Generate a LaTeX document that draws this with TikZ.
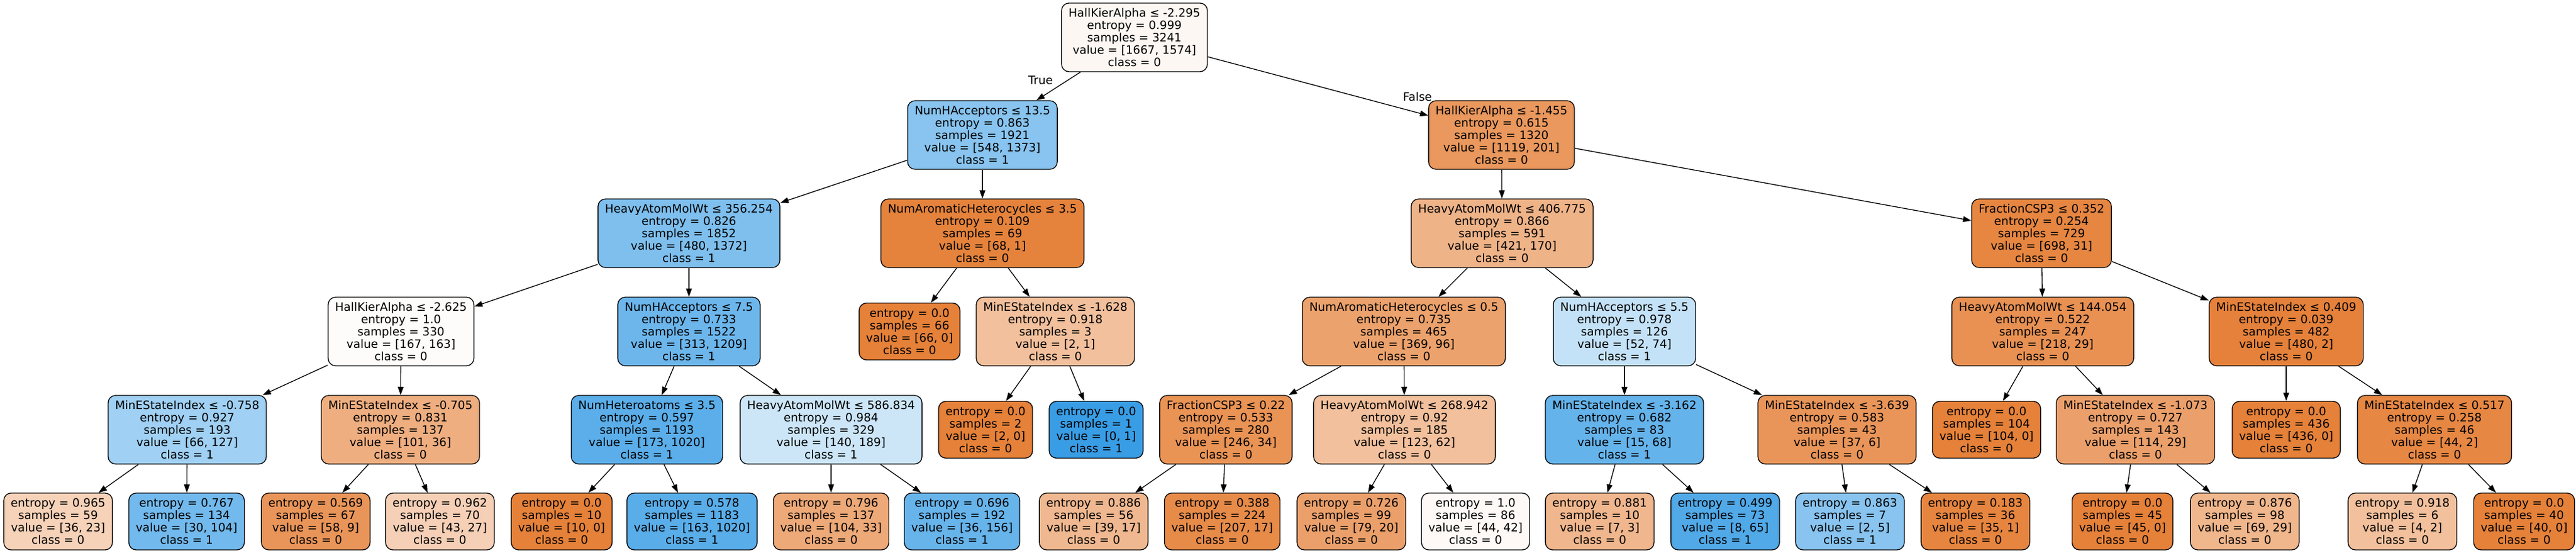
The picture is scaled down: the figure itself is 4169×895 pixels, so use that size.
\documentclass[tikz,border=0pt]{standalone}
\usepackage{fontspec}
\setmainfont{DejaVu Sans}
\usetikzlibrary{arrows.meta}

\definecolor{clsA}{HTML}{E58139}
\definecolor{clsB}{HTML}{399DE5}

\newcommand{\dtsplit}[5]{#1\\entropy = #2\\samples = #3\\value = #4\\class = #5}
\newcommand{\dtleaf}[4]{entropy = #1\\samples = #2\\value = #3\\class = #4}

\tikzset{
	box/.style={draw, line width=1pt, rounded corners=9pt, align=center,
		font=\fontsize{14}{15}\selectfont, inner xsep=8.5pt, inner ysep=2pt,
		minimum height=83.25pt},
	leafbox/.style={box, minimum height=69pt},
	edge/.style={-{Triangle[length=10pt,width=7pt]}, line width=1pt},
	elabel/.style={font=\fontsize{14}{15}\selectfont, inner sep=0pt}
}

\begin{document}
\begin{tikzpicture}[x=0.75pt, y=-0.75pt]
\useasboundingbox (0,0) rectangle (4169,895);

\pgfmathsetmacro{\rkA}{60.5}
\pgfmathsetmacro{\rkB}{218.5}
\pgfmathsetmacro{\rkC}{377.5}
\pgfmathsetmacro{\rkD}{536.5}
\pgfmathsetmacro{\rkE}{695.5}
\pgfmathsetmacro{\rkF}{844}

% rank 0 and 1
\node[box, fill=clsA!6!white] (n) at (1836,\rkA) {\dtsplit{HallKierAlpha ≤ -2.295}{0.999}{3241}{[1667, 1574]}{0}};
\node[box, fill=clsB!60!white] (nl) at (1590,\rkB) {\dtsplit{NumHAcceptors ≤ 13.5}{0.863}{1921}{[548, 1373]}{1}};
\node[box, fill=clsA!82!white] (nr) at (2430,\rkB) {\dtsplit{HallKierAlpha ≤ -1.455}{0.615}{1320}{[1119, 201]}{0}};

% rank 2
\node[box, fill=clsB!65!white] (nll) at (1115,\rkC) {\dtsplit{HeavyAtomMolWt ≤ 356.254}{0.826}{1852}{[480, 1372]}{1}};
\node[box, fill=clsA!98.5!white] (nlr) at (1590,\rkC) {\dtsplit{NumAromaticHeterocycles ≤ 3.5}{0.109}{69}{[68, 1]}{0}};
\node[box, fill=clsA!60!white] (nrl) at (2431,\rkC) {\dtsplit{HeavyAtomMolWt ≤ 406.775}{0.866}{591}{[421, 170]}{0}};
\node[box, fill=clsA!96!white] (nrr) at (3304,\rkC) {\dtsplit{FractionCSP3 ≤ 0.352}{0.254}{729}{[698, 31]}{0}};

% rank 3
\node[box, fill=clsA!2!white] (nlll) at (649,\rkD) {\dtsplit{HallKierAlpha ≤ -2.625}{1.0}{330}{[167, 163]}{0}};
\node[box, fill=clsB!74!white] (nllr) at (1115,\rkD) {\dtsplit{NumHAcceptors ≤ 7.5}{0.733}{1522}{[313, 1209]}{1}};
\node[leafbox, fill=clsA] (nlrl) at (1472,\rkD) {\dtleaf{0.0}{66}{[66, 0]}{0}};
\node[box, fill=clsA!50!white] (nlrr) at (1708,\rkD) {\dtsplit{MinEStateIndex ≤ -1.628}{0.918}{3}{[2, 1]}{0}};
\node[box, fill=clsA!74!white] (nrll) at (2272,\rkD) {\dtsplit{NumAromaticHeterocycles ≤ 0.5}{0.735}{465}{[369, 96]}{0}};
\node[box, fill=clsB!30!white] (nrlr) at (2629,\rkD) {\dtsplit{NumHAcceptors ≤ 5.5}{0.978}{126}{[52, 74]}{1}};
\node[box, fill=clsA!87!white] (nrrl) at (3306,\rkD) {\dtsplit{HeavyAtomMolWt ≤ 144.054}{0.522}{247}{[218, 29]}{0}};
\node[box, fill=clsA!99.6!white] (nrrr) at (3700,\rkD) {\dtsplit{MinEStateIndex ≤ 0.409}{0.039}{482}{[480, 2]}{0}};

% rank 4
\node[box, fill=clsB!48!white] (nllll) at (303,\rkE) {\dtsplit{MinEStateIndex ≤ -0.758}{0.927}{193}{[66, 127]}{1}};
\node[box, fill=clsA!64!white] (nlllr) at (648,\rkE) {\dtsplit{MinEStateIndex ≤ -0.705}{0.831}{137}{[101, 36]}{0}};
\node[box, fill=clsB!83!white] (nllrl) at (1047,\rkE) {\dtsplit{NumHeteroatoms ≤ 3.5}{0.597}{1193}{[173, 1020]}{1}};
\node[box, fill=clsB!26!white] (nllrr) at (1345,\rkE) {\dtsplit{HeavyAtomMolWt ≤ 586.834}{0.984}{329}{[140, 189]}{1}};
\node[leafbox, fill=clsA] (nlrrl) at (1595,\rkE) {\dtleaf{0.0}{2}{[2, 0]}{0}};
\node[leafbox, fill=clsB] (nlrrr) at (1774,\rkE) {\dtleaf{0.0}{1}{[0, 1]}{1}};
\node[box, fill=clsA!86!white] (nrlll) at (1984,\rkE) {\dtsplit{FractionCSP3 ≤ 0.22}{0.533}{280}{[246, 34]}{0}};
\node[box, fill=clsA!50!white] (nrllr) at (2273,\rkE) {\dtsplit{HeavyAtomMolWt ≤ 268.942}{0.92}{185}{[123, 62]}{0}};
\node[box, fill=clsB!78!white] (nrlrl) at (2629,\rkE) {\dtsplit{MinEStateIndex ≤ -3.162}{0.682}{83}{[15, 68]}{1}};
\node[box, fill=clsA!84!white] (nrlrr) at (2973,\rkE) {\dtsplit{MinEStateIndex ≤ -3.639}{0.583}{43}{[37, 6]}{0}};
\node[leafbox, fill=clsA] (nrrll) at (3215,\rkE) {\dtleaf{0.0}{104}{[104, 0]}{0}};
\node[box, fill=clsA!75!white] (nrrlr) at (3456,\rkE) {\dtsplit{MinEStateIndex ≤ -1.073}{0.727}{143}{[114, 29]}{0}};
\node[leafbox, fill=clsA] (nrrrl) at (3700,\rkE) {\dtleaf{0.0}{436}{[436, 0]}{0}};
\node[box, fill=clsA!95!white] (nrrrr) at (3940,\rkE) {\dtsplit{MinEStateIndex ≤ 0.517}{0.258}{46}{[44, 2]}{0}};

% rank 5
\node[leafbox, fill=clsA!36!white] (nlllll) at (94,\rkF) {\dtleaf{0.965}{59}{[36, 23]}{0}};
\node[leafbox, fill=clsB!71!white] (nllllr) at (302,\rkF) {\dtleaf{0.767}{134}{[30, 104]}{1}};
\node[leafbox, fill=clsA!84!white] (nlllrl) at (511,\rkF) {\dtleaf{0.569}{67}{[58, 9]}{0}};
\node[leafbox, fill=clsA!37!white] (nlllrr) at (712,\rkF) {\dtleaf{0.962}{70}{[43, 27]}{0}};
\node[leafbox, fill=clsA] (nllrll) at (909,\rkF) {\dtleaf{0.0}{10}{[10, 0]}{0}};
\node[leafbox, fill=clsB!84!white] (nllrlr) at (1120,\rkF) {\dtleaf{0.578}{1183}{[163, 1020]}{1}};
\node[leafbox, fill=clsA!68!white] (nllrrl) at (1345,\rkF) {\dtleaf{0.796}{137}{[104, 33]}{0}};
\node[leafbox, fill=clsB!77!white] (nllrrr) at (1557,\rkF) {\dtleaf{0.696}{192}{[36, 156]}{1}};
\node[leafbox, fill=clsA!56!white] (nrllll) at (1770,\rkF) {\dtleaf{0.886}{56}{[39, 17]}{0}};
\node[leafbox, fill=clsA!92!white] (nrlllr) at (1978,\rkF) {\dtleaf{0.388}{224}{[207, 17]}{0}};
\node[leafbox, fill=clsA!75!white] (nrllrl) at (2187,\rkF) {\dtleaf{0.726}{99}{[79, 20]}{0}};
\node[leafbox, fill=clsA!4.5!white] (nrllrr) at (2388,\rkF) {\dtleaf{1.0}{86}{[44, 42]}{0}};
\node[leafbox, fill=clsA!57!white] (nrlrll) at (2589,\rkF) {\dtleaf{0.881}{10}{[7, 3]}{0}};
\node[leafbox, fill=clsB!88!white] (nrlrlr) at (2792,\rkF) {\dtleaf{0.499}{73}{[8, 65]}{1}};
\node[leafbox, fill=clsB!60!white] (nrlrrl) at (2994,\rkF) {\dtleaf{0.863}{7}{[2, 5]}{1}};
\node[leafbox, fill=clsA!97!white] (nrlrrr) at (3197,\rkF) {\dtleaf{0.183}{36}{[35, 1]}{0}};
\node[leafbox, fill=clsA] (nrrlrl) at (3435,\rkF) {\dtleaf{0.0}{45}{[45, 0]}{0}};
\node[leafbox, fill=clsA!58!white] (nrrlrr) at (3633,\rkF) {\dtleaf{0.876}{98}{[69, 29]}{0}};
\node[leafbox, fill=clsA!50!white] (nrrrrl) at (3888,\rkF) {\dtleaf{0.918}{6}{[4, 2]}{0}};
\node[leafbox, fill=clsA] (nrrrrr) at (4085,\rkF) {\dtleaf{0.0}{40}{[40, 0]}{0}};

% edges
\draw[edge] (n) -- (nl);
\draw[edge] (n) -- (nr);
\node[elabel] (ltrue) at (1684,130) {True};
\node[elabel] (lfalse) at (2294,157) {False};

\draw[edge] (nl) -- (nll);
\draw[edge] (nl) -- (nlr);
\draw[edge] (nr) -- (nrl);
\draw[edge] (nr) -- (nrr);

\draw[edge] (nll) -- (nlll);
\draw[edge] (nll) -- (nllr);
\draw[edge] (nlr) -- (nlrl);
\draw[edge] (nlr) -- (nlrr);
\draw[edge] (nrl) -- (nrll);
\draw[edge] (nrl) -- (nrlr);
\draw[edge] (nrr) -- (nrrl);
\draw[edge] (nrr) -- (nrrr);

\draw[edge] (nlll) -- (nllll);
\draw[edge] (nlll) -- (nlllr);
\draw[edge] (nllr) -- (nllrl);
\draw[edge] (nllr) -- (nllrr);
\draw[edge] (nlrr) -- (nlrrl);
\draw[edge] (nlrr) -- (nlrrr);
\draw[edge] (nrll) -- (nrlll);
\draw[edge] (nrll) -- (nrllr);
\draw[edge] (nrlr) -- (nrlrl);
\draw[edge] (nrlr) -- (nrlrr);
\draw[edge] (nrrl) -- (nrrll);
\draw[edge] (nrrl) -- (nrrlr);
\draw[edge] (nrrr) -- (nrrrl);
\draw[edge] (nrrr) -- (nrrrr);

\draw[edge] (nllll) -- (nlllll);
\draw[edge] (nllll) -- (nllllr);
\draw[edge] (nlllr) -- (nlllrl);
\draw[edge] (nlllr) -- (nlllrr);
\draw[edge] (nllrl) -- (nllrll);
\draw[edge] (nllrl) -- (nllrlr);
\draw[edge] (nllrr) -- (nllrrl);
\draw[edge] (nllrr) -- (nllrrr);
\draw[edge] (nrlll) -- (nrllll);
\draw[edge] (nrlll) -- (nrlllr);
\draw[edge] (nrllr) -- (nrllrl);
\draw[edge] (nrllr) -- (nrllrr);
\draw[edge] (nrlrl) -- (nrlrll);
\draw[edge] (nrlrl) -- (nrlrlr);
\draw[edge] (nrlrr) -- (nrlrrl);
\draw[edge] (nrlrr) -- (nrlrrr);
\draw[edge] (nrrlr) -- (nrrlrl);
\draw[edge] (nrrlr) -- (nrrlrr);
\draw[edge] (nrrrr) -- (nrrrrl);
\draw[edge] (nrrrr) -- (nrrrrr);
\end{tikzpicture}
\end{document}
